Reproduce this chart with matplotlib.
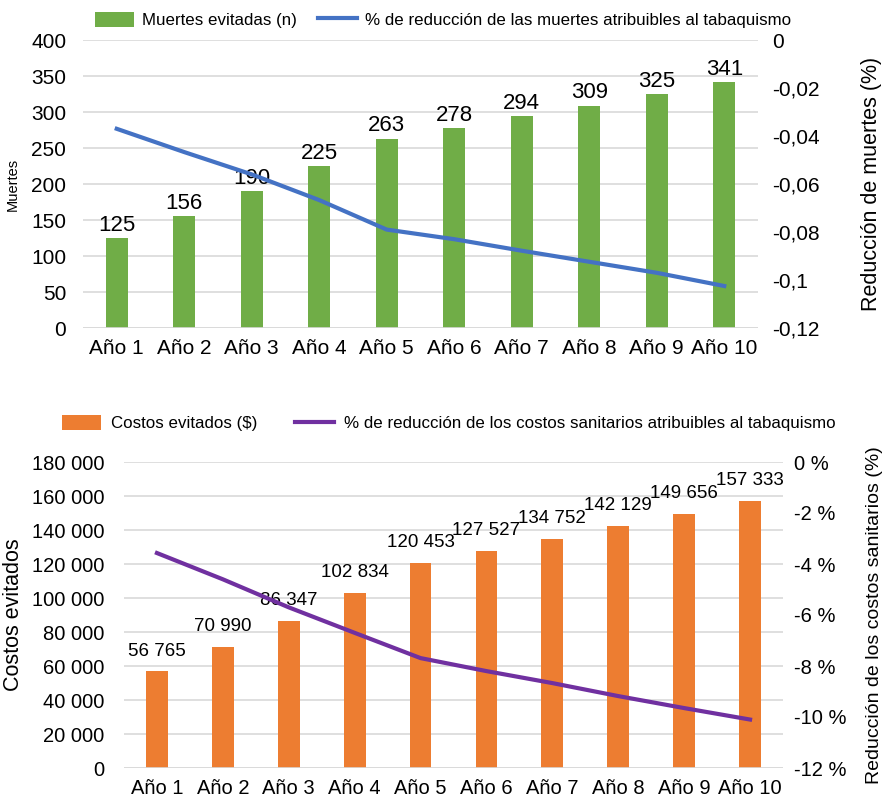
import matplotlib.pyplot as plt
from matplotlib.ticker import FuncFormatter, FixedLocator

plt.rcParams['font.family'] = ['Liberation Sans', 'DejaVu Sans']

anios = ['Año 1', 'Año 2', 'Año 3', 'Año 4', 'Año 5', 'Año 6', 'Año 7', 'Año 8', 'Año 9', 'Año 10']
muertes = [125, 156, 190, 225, 263, 278, 294, 309, 325, 341]
red_muertes = [-0.037, -0.0467, -0.056, -0.0667, -0.079, -0.083, -0.0878, -0.0924, -0.097, -0.1025]
costos = [56765, 70990, 86347, 102834, 120453, 127527, 134752, 142129, 149656, 157333]
red_costos = [-3.57, -4.6, -5.7, -6.7, -7.69, -8.2, -8.67, -9.18, -9.65, -10.1]

verde = '#70AD47'
azul = '#4472C4'
naranja = '#ED7D31'
morado = '#7030A0'
gris = '#D9D9D9'

W, H = 884, 797
fig = plt.figure(figsize=(W / 100, H / 100), dpi=100)


def px_axes(l, t, r, b):
    return fig.add_axes([l / W, 1 - b / H, (r - l) / W, (b - t) / H])


def estilo(ax):
    for s in ax.spines.values():
        s.set_visible(False)
    ax.tick_params(length=0)


x = list(range(len(anios)))

# --- grafico superior: muertes ---
ax1 = px_axes(83, 40, 758, 328)
b1 = ax1.bar(x, muertes, width=0.33, color=verde, label='Muertes evitadas (n)', zorder=2)
ax1.set_ylim(0, 400)
ax1.set_xlim(-0.5, 9.5)
ax1.set_yticks(range(0, 401, 50))
ax1.set_xticks(x)
ax1.set_xticklabels(anios)
ax1.grid(axis='y', color=gris, lw=1.2, zorder=0)
ax1.tick_params(labelsize=15, pad=8)
ax1.tick_params(axis='y', pad=12)
estilo(ax1)
ax1.axhline(0, color=gris, lw=1.2)
for xi, v in zip(x, muertes):
    ax1.text(xi, v + 3, str(v), ha='center', va='bottom', fontsize=16)
ax1.set_ylabel('Muertes', fontsize=10.5, labelpad=8)

ax1b = ax1.twinx()
l1, = ax1b.plot(x, red_muertes, color=azul, lw=3,
                label='% de reducción de las muertes atribuibles al tabaquismo')
ax1b.set_ylim(-0.12, 0)
ax1b.yaxis.set_major_locator(FixedLocator([0, -0.02, -0.04, -0.06, -0.08, -0.1, -0.12]))
ax1b.yaxis.set_major_formatter(FuncFormatter(lambda v, p: ('%g' % round(v, 2)).replace('.', ',')))
ax1b.tick_params(labelsize=15, pad=10)
estilo(ax1b)
ax1b.set_ylabel('Reducción de muertes (%)', fontsize=15.5, labelpad=30)

fig.legend([b1, l1], [b1.get_label(), l1.get_label()], loc='center',
           bbox_to_anchor=(443 / W, 1 - 20 / H), ncol=2, frameon=False,
           fontsize=12.2, handlelength=2.3, handleheight=1.0, columnspacing=1.2,
           handletextpad=0.5)

# --- grafico inferior: costos ---
ax2 = px_axes(124, 462, 783, 768)
b2 = ax2.bar(x, costos, width=0.33, color=naranja, label='Costos evitados ($)', zorder=2)
ax2.set_ylim(0, 180000)
ax2.set_xlim(-0.5, 9.5)
ax2.set_yticks(range(0, 180001, 20000))
ax2.yaxis.set_major_formatter(FuncFormatter(lambda v, p: '{:,.0f}'.format(v).replace(',', ' ')))
ax2.set_xticks(x)
ax2.set_xticklabels(anios)
ax2.grid(axis='y', color=gris, lw=1.2, zorder=0)
ax2.tick_params(labelsize=14.5, pad=8)
ax2.tick_params(axis='y', pad=14)
estilo(ax2)
ax2.axhline(0, color=gris, lw=1.2)
for xi, v in zip(x, costos):
    ax2.text(xi, v + 7000, '{:,.0f}'.format(v).replace(',', ' '), ha='center', va='bottom', fontsize=13.5)
ax2.set_ylabel('Costos evitados', fontsize=15.5, labelpad=6)

ax2b = ax2.twinx()
l2, = ax2b.plot(x, red_costos, color=morado, lw=3,
                label='% de reducción de los costos sanitarios atribuibles al tabaquismo')
ax2b.set_ylim(-12, 0)
ax2b.set_yticks(range(-12, 1, 2))
ax2b.yaxis.set_major_formatter(FuncFormatter(lambda v, p: '%d %%' % v))
ax2b.tick_params(labelsize=14.5, pad=8)
estilo(ax2b)
ax2b.set_ylabel('Reducción de los costos sanitarios (%)', fontsize=14, labelpad=14)

fig.legend([b2, l2], [b2.get_label(), l2.get_label()], loc='center',
           bbox_to_anchor=(449 / W, 1 - 423 / H), ncol=2, frameon=False,
           fontsize=12.2, handlelength=2.3, handleheight=1.0, columnspacing=2.2,
           handletextpad=0.6)

fig.savefig('out.png', dpi=100)
